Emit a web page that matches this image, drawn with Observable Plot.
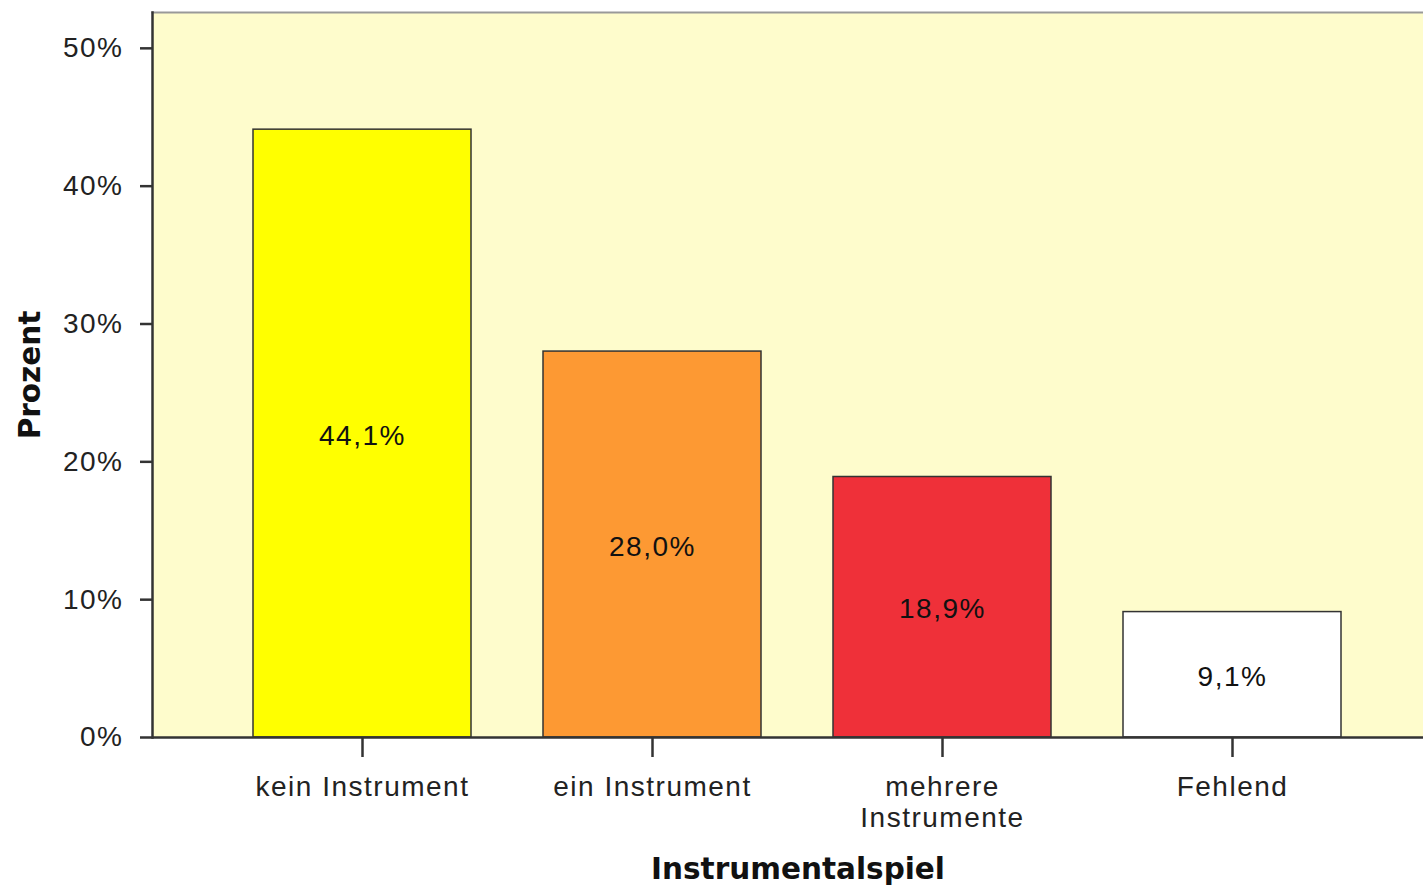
<!DOCTYPE html>
<html>
<head>
<meta charset="utf-8">
<script src="https://cdn.jsdelivr.net/npm/d3@7"></script>
<script src="https://cdn.jsdelivr.net/npm/@observablehq/plot@0.6"></script>
<style>
  html, body { margin: 0; padding: 0; background: #fff; overflow: hidden; }
</style>
</head>
<body>
<div id="chart"></div>
<script>
const categories = ["kein Instrument", "ein Instrument", "mehrere\nInstrumente", "Fehlend"];
const percents = [44.1, 28.0, 18.9, 9.1];
const colors = ["#ffff00", "#fd9933", "#ef3039", "#ffffff"];
const yTicks = [0, 10, 20, 30, 40, 50];

const data = categories.map((c, i) => ({category: c, value: percents[i], color: colors[i]}));
const de = d3.formatLocale({decimal: ",", thousands: ".", grouping: [3], currency: ["", "€"]});
const fmt = de.format(".1f");

const font = "'Liberation Sans', Arial, sans-serif";
const boldFont = "'DejaVu Sans', sans-serif";

const chart = Plot.plot({
  width: 1423,
  height: 890,
  marginLeft: 152,
  marginRight: 0,
  marginTop: 12,
  marginBottom: 153,
  style: {fontFamily: font, fontSize: "28px", color: "#222", background: "#fff", letterSpacing: "1.5px"},
  x: {domain: categories, paddingInner: 0.25, paddingOuter: 0.3125, align: 0.55, label: null},
  y: {domain: [0, 52.6], label: null},
  marks: [
    Plot.frame({fill: "#fefccc", stroke: null}),
    Plot.frame({anchor: "top", stroke: "#999", strokeWidth: 2}),
    Plot.barY(data, {x: "category", y: "value", fill: "color", stroke: "#333", strokeWidth: 1.5}),
    Plot.text(data, {x: "category", y: d => d.value / 2, text: d => fmt(d.value) + "%", fill: "#111", fontSize: 28, dy: 2}),
    Plot.frame({anchor: "left", stroke: "#333", strokeWidth: 2.5}),
    Plot.ruleY([0], {stroke: "#333", strokeWidth: 2.5}),
    Plot.axisY({ticks: yTicks, tickFormat: d => d + "%", tickSize: 12, tickPadding: 17, stroke: "#333", strokeWidth: 2.5, label: null, fontSize: 28}),
    Plot.axisX({tickSize: 20, tickPadding: 17, stroke: "#333", strokeWidth: 2.5, label: null, lineHeight: 1.1, fontSize: 28}),
    Plot.text(["Instrumentalspiel"], {frameAnchor: "bottom", dx: 10, dy: 141, fontWeight: "bold", fontFamily: boldFont, fontSize: 29.5, fill: "#111"}),
    Plot.text(["Prozent"], {frameAnchor: "left", textAnchor: "middle", rotate: -90, dx: -122, fontWeight: "bold", fontFamily: boldFont, fontSize: 29.5, fill: "#111"})
  ]
});
d3.select(chart).selectAll("[font-weight='bold']").style("letter-spacing", "0px");
document.getElementById("chart").appendChild(chart);
</script>
</body>
</html>
